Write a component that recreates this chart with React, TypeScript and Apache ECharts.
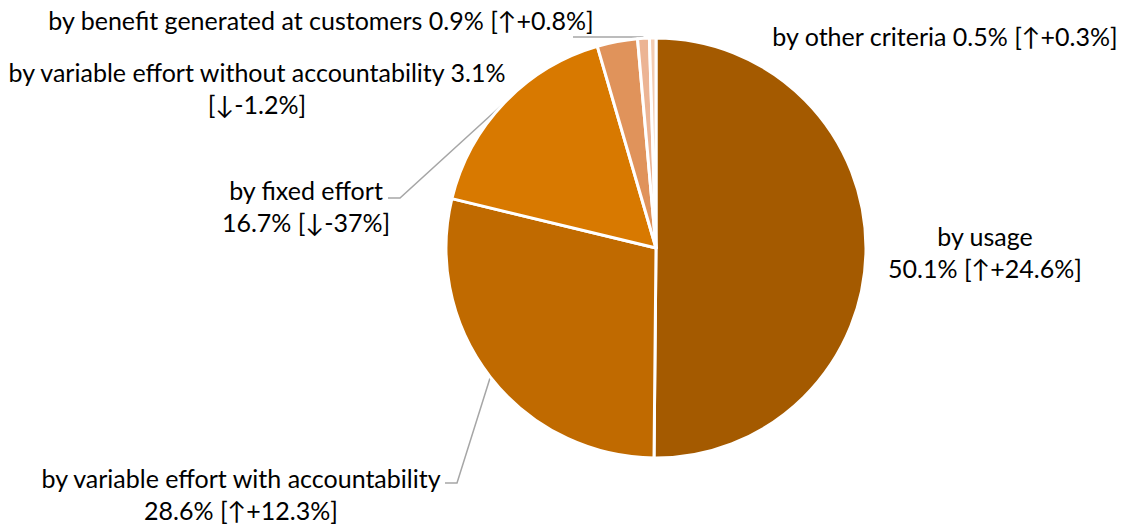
import React, { useEffect, useRef } from "react";
import * as echarts from "echarts";

const categories = [
  "by usage",
  "by variable effort with accountability",
  "by fixed effort",
  "by variable effort without accountability",
  "by benefit generated at customers",
  "by other criteria",
];
const shares = [50.1, 28.6, 16.7, 3.1, 0.9, 0.5];
const changes = [24.6, 12.3, -37, -1.2, 0.8, 0.3];
// where the label text breaks: after the name, after the share, or not at all
const breaks = ["name", "name", "name", "share", "none", "none"];
const colors = ["#A45A00", "#C06A00", "#D87900", "#E0935B", "#ECB494", "#F4CDB3"];

// label centres (px)
const labelPos: [number, number][] = [
  [985, 252],
  [241, 494],
  [306, 206],
  [257, 88],
  [321, 20],
  [945, 36],
];
const showLine = [false, true, true, false, true, false];

const fmtChange = (c: number) => (c >= 0 ? "↑+" + c : "↓" + c) + "%";

export default function App() {
  const ref = useRef<HTMLDivElement>(null);
  useEffect(() => {
    document.body.style.margin = "0";
    const chart = echarts.init(ref.current!, null, { renderer: "svg" });
    const data = categories.map((name, i) => ({
      name,
      value: shares[i],
      itemStyle: { color: colors[i] },
      labelLine: { show: showLine[i] },
    }));
    chart.setOption({
      animation: false,
      series: [
        {
          type: "pie",
          center: [656, 248],
          radius: 210,
          startAngle: 90,
          clockwise: true,
          avoidLabelOverlap: false,
          itemStyle: { borderColor: "#fff", borderWidth: 3 },
          label: {
            show: true,
            position: "outside",
            fontFamily: "Lato",
            fontSize: 25,
            lineHeight: 32,
            color: "#000",
            align: "center",
            formatter: (p: any) => {
              const i = p.dataIndex;
              const share = shares[i] + "%";
              const ch = "[" + fmtChange(changes[i]) + "]";
              if (breaks[i] === "name") return categories[i] + "\n" + share + " " + ch;
              if (breaks[i] === "share") return categories[i] + " " + share + "\n" + ch;
              return categories[i] + " " + share + " " + ch;
            },
          },
          labelLine: {
            show: true,
            lineStyle: { color: "#A6A6A6", width: 1.5 },
          },
          labelLayout: (p: any) => {
            const i = p.dataIndex;
            const [x, y] = labelPos[i];
            const out: any = { x, y, align: "center", verticalAlign: "middle" };
            const a = p.labelLinePoints && p.labelLinePoints[0];
            if (showLine[i] && a) {
              if (i === 1) out.labelLinePoints = [a, [457, 483], [445, 483]];
              else if (i === 2) out.labelLinePoints = [a, [400, 198], [388, 198]];
              else if (i === 4) out.labelLinePoints = [[a[0], 37], [573, 37]];
            }
            return out;
          },
          data,
        },
      ],
    });
    return () => chart.dispose();
  }, []);
  return <div ref={ref} style={{ width: 1122, height: 525 }} />;
}
